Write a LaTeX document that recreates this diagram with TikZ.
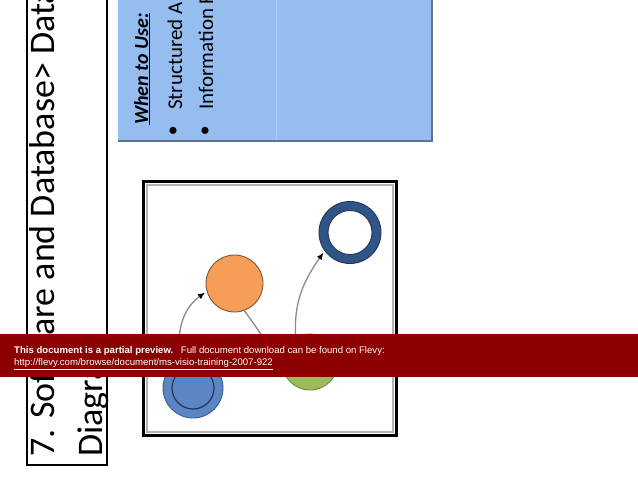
\documentclass[tikz,border=0pt]{standalone}
\usepackage{fontspec}
\setmainfont{Carlito}
\newfontfamily\bannerfont{Liberation Sans}
\usetikzlibrary{arrows.meta}
\definecolor{sky}{HTML}{95BDF0}
\definecolor{skyedge}{HTML}{5F7390}
\definecolor{skyline}{HTML}{ADCBF3}
\definecolor{banner}{HTML}{8C0000}
\definecolor{navy}{HTML}{2F5485}
\definecolor{navyedge}{HTML}{1E365A}
\definecolor{peach}{HTML}{F69E57}
\definecolor{peachedge}{HTML}{7A5638}
\definecolor{steel}{HTML}{5C85C4}
\definecolor{steeledge}{HTML}{3A5B8C}
\definecolor{leaf}{HTML}{9CBB5A}
\definecolor{leafedge}{HTML}{6E8A3D}
\definecolor{conn}{HTML}{8A8A8A}
\definecolor{framegray}{HTML}{B4B4B4}
\tikzset{
  frame/.style={draw=black, line width=1.1pt},
  blob/.style={circle, inner sep=0pt, line width=0.9pt},
  link/.style={draw=conn, line width=1.3pt},
  flow/.style={link, -{Latex[length=7pt,width=6pt,color=black]}, shorten >=2pt},
  vtext/.style={rotate=90, anchor=base west, inner sep=0pt},
  ttl/.style={vtext, font=\fontsize{36}{40}\selectfont},
  body/.style={vtext, font=\fontsize{21}{25}\selectfont},
  note/.style={anchor=base west, inner sep=0pt, text=white, font=\bannerfont\fontsize{9.6}{11}\selectfont},
}

\begin{document}
\begin{tikzpicture}[x=1pt, y=1pt]
  \useasboundingbox (0,0) rectangle (638,-493);
  \clip (0,0) rectangle (638,-493);
  \fill[white] (0,0) rectangle (638,-493);

  % title strip
  \draw[frame] (27,5) rectangle (107,-465);
  \node[ttl] (ttl1) at (54,-457) {7. Software and Database> Data};
  \node[ttl] (ttl2) at (102,-457) {Diagram};

  % blue info box
  \fill[sky] (118,5) rectangle (431,-140);
  \draw[skyline, line width=0.8pt] (276,5) -- (276,-140);
  \draw[skyedge, line width=2pt] (431.5,5) -- (431.5,-141) -- (118,-141);
  \node[vtext, font=\fontsize{20}{24}\selectfont] (when) at (148,-125)
    {\underline{\textbf{\textit{When to Use:}}}};
  \node[body] (use1) at (182,-110) {Structured A};
  \node[body] (use2) at (213,-110) {Information F};
  \node[font=\fontsize{20}{24}\selectfont, inner sep=0pt] (dot1) at (173,-132) {\textbullet};
  \node[font=\fontsize{20}{24}\selectfont, inner sep=0pt] (dot2) at (205,-132) {\textbullet};

  % diagram frame
  \draw[black, line width=3pt] (143.5,-181.5) rectangle (396.5,-435);
  \draw[framegray, line width=1.6pt] (147,-185) rectangle (393,-432);

  % shapes
  \node[blob, draw=navyedge, fill=navy, minimum size=62pt] (ring) at (350,-232.5) {};
  \node[blob, draw=navyedge, fill=white, minimum size=44pt] (hole) at (ring) {};
  \node[blob, draw=peachedge, fill=peach, minimum size=57pt] (peach) at (234.5,-283.5) {};
  \node[blob, draw=steeledge, fill=steel, minimum size=60pt] (steel) at (193,-388) {};
  \node[blob, draw=navyedge, line width=1.2pt, minimum size=42pt] (core) at (steel) {};
  \node[blob, draw=leafedge, fill=leaf, minimum size=56pt] (leaf) at (310,-362) {};

  % connectors
  \draw[flow] (steel.112) to[out=104, in=215] (peach.196);
  \draw[flow] (leaf.120) to[out=94, in=235] (ring.216);
  \draw[link] (peach.-70) -- (leaf.182);

  % preview banner
  \fill[banner] (0,-334) rectangle (638,-377);
  \node[note] (msg) at (14,-353)
    {\textbf{This document is a partial preview.}\hspace{4pt} Full document download can be found on Flevy:};
  \node[note] (url) at (14,-365.5) {\underline{http://flevy.com/browse/document/ms-visio-training-2007-922}};
\end{tikzpicture}
\end{document}
